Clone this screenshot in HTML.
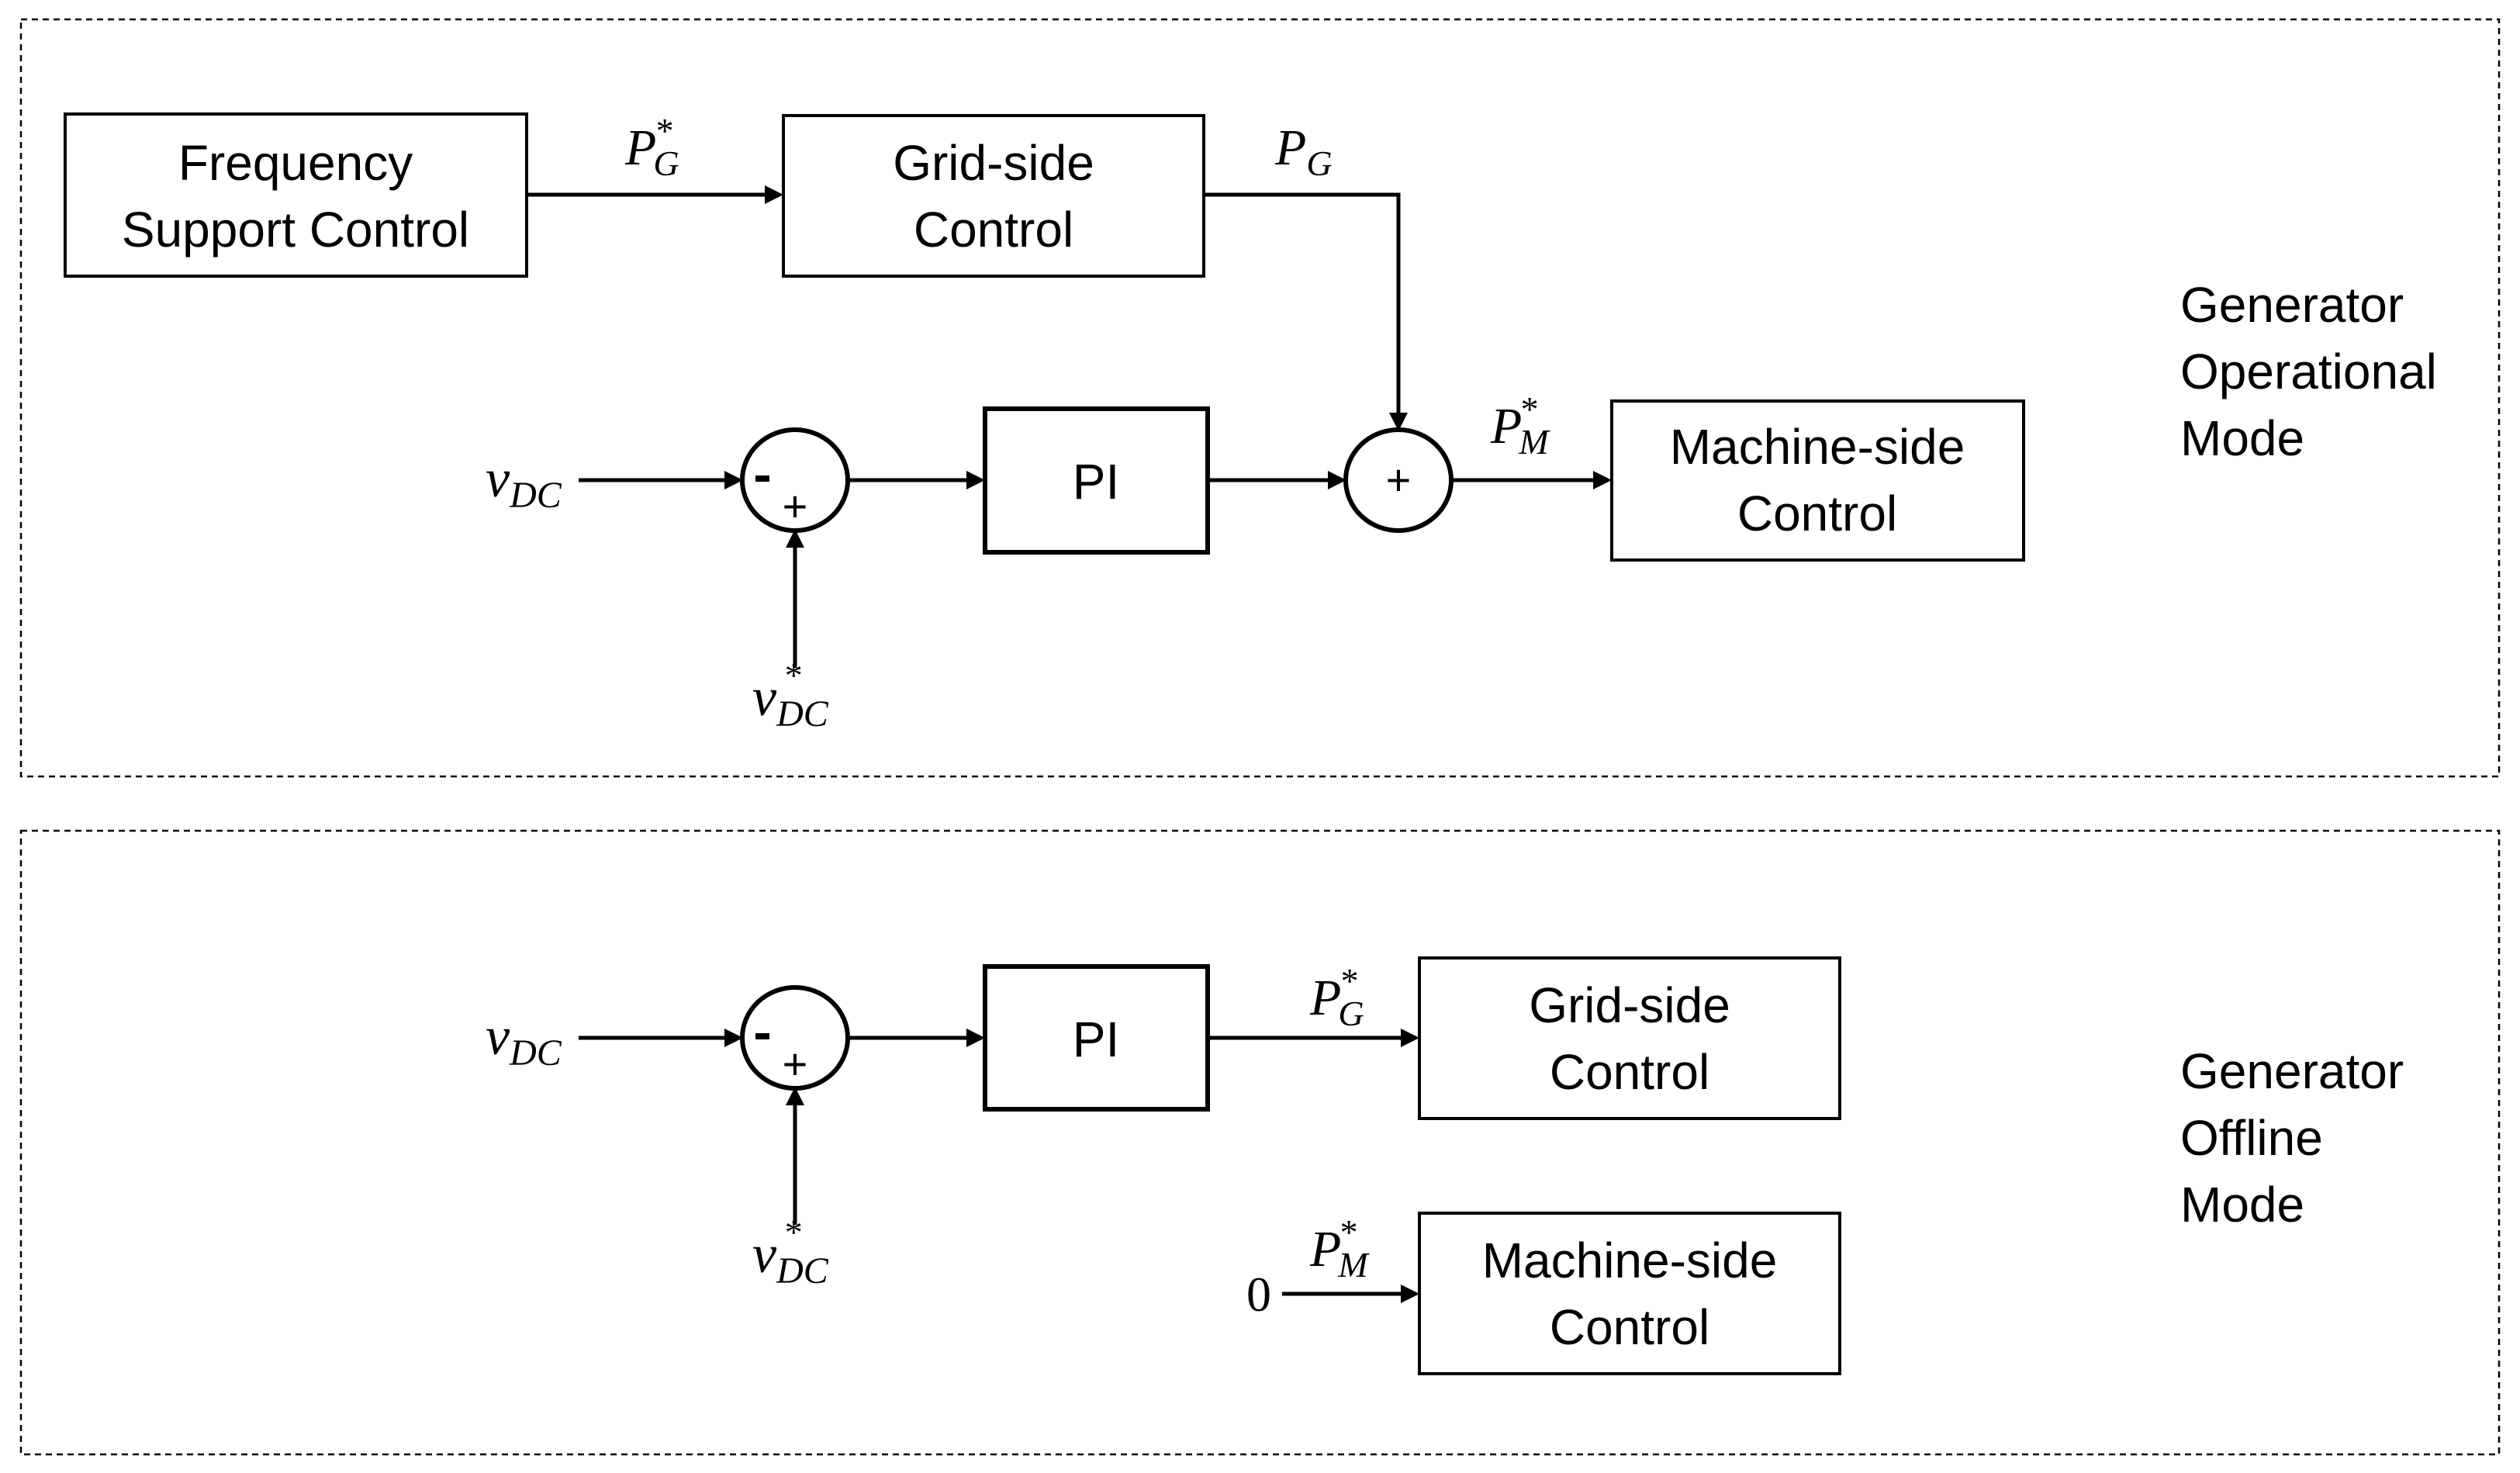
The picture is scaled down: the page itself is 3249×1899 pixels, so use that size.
<!DOCTYPE html>
<html><head><meta charset="utf-8"><style>
html,body{margin:0;padding:0;background:#fff;}
svg{display:block;}
.t{font-family:"Liberation Sans",sans-serif;font-size:64px;fill:#000;}
.m{font-family:"Liberation Serif",serif;font-style:italic;fill:#000;}
</style></head><body>
<svg width="3249" height="1899" viewBox="0 0 3249 1899" xmlns="http://www.w3.org/2000/svg">
<g fill="none" stroke="#000" stroke-width="2.5" stroke-dasharray="8,6">
<rect x="27" y="25" width="3195" height="976"/>
<rect x="27" y="1071" width="3195" height="804"/>
</g>
<g fill="none" stroke="#000" stroke-width="4">
<rect x="84" y="147" width="595" height="209"/>
<rect x="1010" y="149" width="542" height="207"/>
<rect x="2078" y="517" width="531" height="205"/>
<rect x="1830" y="1235" width="542" height="207"/>
<rect x="1830" y="1564" width="542" height="207"/>
</g>
<g fill="none" stroke="#000" stroke-width="6">
<rect x="1270" y="527" width="287" height="185"/>
<rect x="1270" y="1246" width="287" height="184"/>
<ellipse cx="1025" cy="619" rx="68" ry="65"/>
<ellipse cx="1803" cy="619" rx="68" ry="65"/>
<ellipse cx="1025" cy="1338" rx="68" ry="65"/>
</g>
<g fill="none" stroke="#000" stroke-width="5">
<path d="M679 251 H990"/>
<path d="M1552 251 H1803 V535"/>
<path d="M746 619 H938"/>
<path d="M1093 619 H1252"/>
<path d="M1557 619 H1716"/>
<path d="M1871 619 H2060"/>
<path d="M1025 861 V700"/>
<path d="M746 1338 H938"/>
<path d="M1093 1338 H1252"/>
<path d="M1557 1338 H1812"/>
<path d="M1025 1579 V1419"/>
<path d="M1653 1668 H1812"/>
</g>
<g fill="#000">
<path d="M1010 251 l-24 -12 v24 z"/>
<path d="M1803 556 l-12 -24 h24 z"/>
<path d="M958 619 l-24 -12 v24 z"/>
<path d="M1270 619 l-24 -12 v24 z"/>
<path d="M1736 619 l-24 -12 v24 z"/>
<path d="M2078 619 l-24 -12 v24 z"/>
<path d="M1025 682 l-12 24 h24 z"/>
<path d="M958 1338 l-24 -12 v24 z"/>
<path d="M1270 1338 l-24 -12 v24 z"/>
<path d="M1830 1338 l-24 -12 v24 z"/>
<path d="M1025 1401 l-12 24 h24 z"/>
<path d="M1830 1668 l-24 -12 v24 z"/>
<rect x="974" y="613" width="18" height="8"/>
<rect x="974" y="1332" width="18" height="8"/>
</g>
<g class="t" text-anchor="middle">
<text x="381" y="232">Frequency</text>
<text x="381" y="318">Support Control</text>
<text x="1281" y="232">Grid-side</text>
<text x="1281" y="318">Control</text>
<text x="2343" y="598">Machine-side</text>
<text x="2343" y="684">Control</text>
<text x="1413" y="643">PI</text>
<text x="1413" y="1362">PI</text>
<text x="2101" y="1318">Grid-side</text>
<text x="2101" y="1404">Control</text>
<text x="2101" y="1647">Machine-side</text>
<text x="2101" y="1733">Control</text>
<text x="1025" y="672" font-size="56">+</text>
<text x="1803" y="638" font-size="56">+</text>
<text x="1025" y="1391" font-size="56">+</text>
</g>
<g class="t">
<text x="2811" y="415">Generator</text>
<text x="2811" y="501">Operational</text>
<text x="2811" y="587">Mode</text>
<text x="2811" y="1403">Generator</text>
<text x="2811" y="1489">Offline</text>
<text x="2811" y="1575">Mode</text>
</g>
<g class="m">
<text x="806" y="212" font-size="66">P<tspan font-size="46" dx="-4" dy="14">G</tspan><tspan font-size="46" dx="-30" dy="-42" font-style="normal">*</tspan></text>
<text x="1644" y="212" font-size="66">P<tspan font-size="46" dy="14">G</tspan></text>
<text x="1922" y="571" font-size="66">P<tspan font-size="46" dx="-4" dy="14">M</tspan><tspan font-size="46" dx="-36" dy="-42" font-style="normal">*</tspan></text>
<text x="626" y="640" font-size="70">v<tspan font-size="48" dy="14">DC</tspan></text>
<text x="970" y="922" font-size="70">v<tspan font-size="48" dy="14">DC</tspan><tspan font-size="46" dx="-56" dy="-50" font-style="normal">*</tspan></text>
<text x="626" y="1359" font-size="70">v<tspan font-size="48" dy="14">DC</tspan></text>
<text x="970" y="1640" font-size="70">v<tspan font-size="48" dy="14">DC</tspan><tspan font-size="46" dx="-56" dy="-50" font-style="normal">*</tspan></text>
<text x="1689" y="1308" font-size="66">P<tspan font-size="46" dx="-4" dy="14">G</tspan><tspan font-size="46" dx="-30" dy="-42" font-style="normal">*</tspan></text>
<text x="1689" y="1632" font-size="66">P<tspan font-size="46" dx="-4" dy="14">M</tspan><tspan font-size="46" dx="-36" dy="-42" font-style="normal">*</tspan></text>
<text x="1607" y="1690" font-size="64" font-style="normal">0</text>
</g>
</svg>
</body></html>
